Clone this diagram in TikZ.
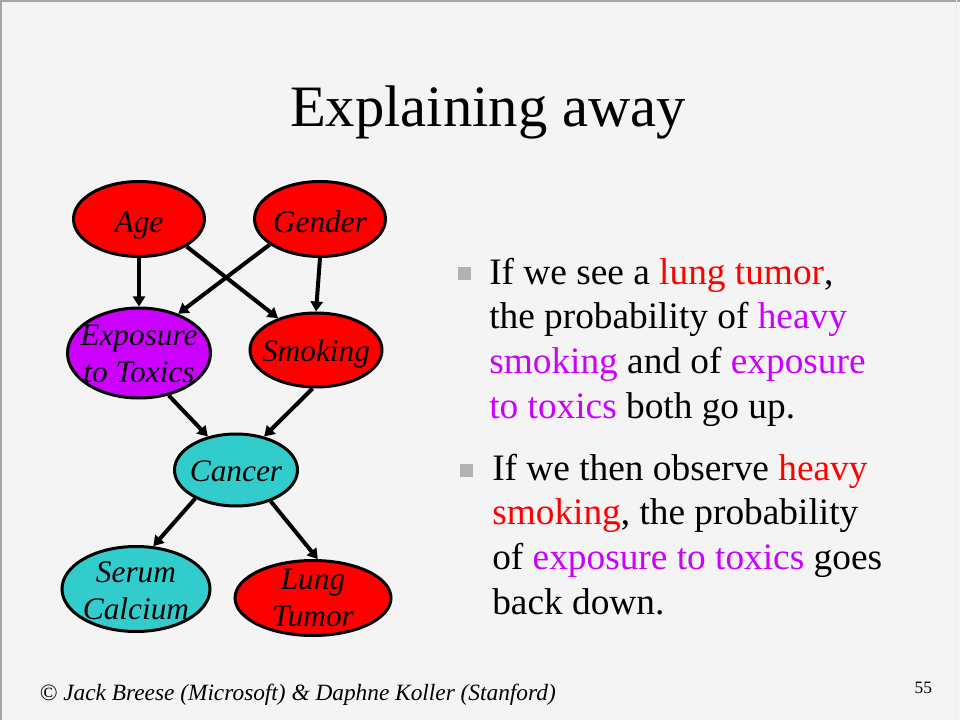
\documentclass[tikz,border=0pt]{standalone}
\usepackage{fontspec}
\setmainfont{Liberation Serif}
\usetikzlibrary{shapes.geometric,arrows.meta}
\definecolor{slidebg}{RGB}{244,244,244}
\definecolor{framegray}{RGB}{165,165,165}
\definecolor{nodered}{RGB}{255,0,0}
\definecolor{nodepurple}{RGB}{204,0,255}
\definecolor{nodecyan}{RGB}{51,204,204}
\definecolor{bulletgray}{RGB}{178,178,178}
\definecolor{textred}{RGB}{255,0,0}
\definecolor{textpurple}{RGB}{204,0,255}
\tikzset{bnnode/.style={ellipse, draw=black, line width=2.25pt, inner sep=0pt},
        bnlabel/.style={font=\fontsize{23.5}{27.75}\selectfont\itshape, align=center, inner sep=0pt},
        bnedge/.style={line width=3pt, -{Triangle[length=7.5pt,width=9pt]}},
        sqbullet/.style={rectangle, fill=bulletgray, minimum size=9.75pt, inner sep=0pt},
        bullettext/.style={font=\fontsize{28}{33.6}\selectfont, align=left, inner sep=0pt, anchor=north west},
        }
\begin{document}
\begin{tikzpicture}[x=0.75pt,y=-0.75pt]
    \useasboundingbox (0,0) rectangle (960,720);
    \fill[slidebg] (0,0) rectangle (960,720);
    \draw[framegray, line width=1.5pt] (1,720) -- (1,1) -- (960,1);
    \draw[black!8, line width=0.75pt] (956,0) -- (956,720);

    \node[anchor=base, font=\fontsize{44}{52}\selectfont] (title) at (488,127) {Explaining away};

    % network
    \node[bnnode, fill=nodered, minimum width=98.25pt, minimum height=56.25pt,
          label={[bnlabel, yshift=-4.5pt]center:Age}] (age) at (139,219) {};
    \node[bnnode, fill=nodered, minimum width=98.25pt, minimum height=56.25pt,
          label={[bnlabel, yshift=-2.25pt]center:Gender}] (gender) at (320,219) {};
    \node[bnnode, fill=nodepurple, minimum width=107.25pt, minimum height=67.5pt,
          label={[bnlabel, yshift=-1pt]center:{Exposure\\to Toxics}}] (exposure) at (139,353) {};
    \node[bnnode, fill=nodered, minimum width=99pt, minimum height=55.5pt,
          label={[bnlabel, yshift=-2.9pt]center:Smoking}] (smoking) at (316,350) {};
    \node[bnnode, fill=nodecyan, minimum width=92.25pt, minimum height=54pt,
          label={[bnlabel, yshift=-1.3pt]center:Cancer}] (cancer) at (236,470) {};
    \node[bnnode, fill=nodecyan, minimum width=111pt, minimum height=63.75pt,
          label={[bnlabel, yshift=-1.7pt]center:{Serum\\Calcium}}] (serum) at (136,589) {};
    \node[bnnode, fill=nodered, minimum width=117pt, minimum height=56.25pt,
          label={[bnlabel]center:{Lung\\Tumor}}] (lung) at (313,598) {};

    \draw[bnedge] (age.south) -- (exposure.north);
    \draw[bnedge] (age.-30) -- (smoking.140);
    \draw[bnedge] (gender.-153) -- (exposure.45);
    \draw[bnedge] (gender.south) -- (smoking.north);
    \draw[bnedge] (exposure.-55) -- (cancer.130);
    \draw[bnedge] (smoking.-95) -- (cancer.50);
    \draw[bnedge] (cancer.-145) -- (serum.68);
    \draw[bnedge] (cancer.-42) -- (lung.83);

    % bullets
    \node[sqbullet] (sq1) at (464,274) {};
    \node[bullettext] (point1) at (489,257.5) {If we see a \textcolor{textred}{lung tumor},\\
        the probability of \textcolor{textpurple}{heavy}\\
        \textcolor{textpurple}{smoking} and of \textcolor{textpurple}{exposure}\\
        \textcolor{textpurple}{to toxics} both go up.};
    \node[sqbullet] (sq2) at (466,470) {};
    \node[bullettext] (point2) at (492,453.5) {If we then observe \textcolor{textred}{heavy}\\
        \textcolor{textred}{smoking}, the probability\\
        of \textcolor{textpurple}{exposure to toxics} goes\\
        back down.};

    \node[anchor=base west, font=\fontsize{17.5}{21}\selectfont\itshape] (credit) at (35,700)
        {\textcopyright{} Jack Breese (Microsoft) \& Daphne Koller (Stanford)};
    \node[anchor=base west, font=\fontsize{13}{15}\selectfont] (pagenum) at (910,693) {55};
\end{tikzpicture}
\end{document}
